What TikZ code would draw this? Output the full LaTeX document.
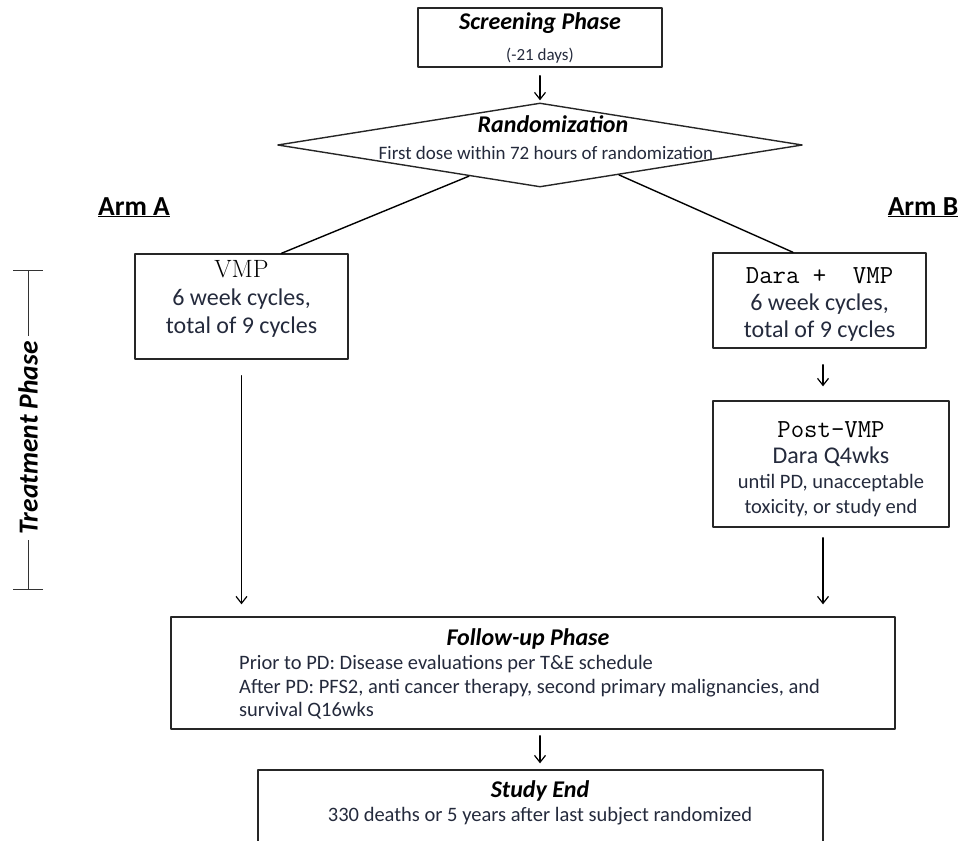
\documentclass[tikz,border=0pt]{standalone}
\usepackage{fontspec}
\newfontfamily\calfont{Carlito}
\usetikzlibrary{arrows.meta,positioning,shapes.geometric,calc}
\definecolor{bodyblue}{RGB}{36,42,60}
\newcommand{\titlefont}{\calfont\fontsize{24}{29}\selectfont\bfseries\itshape}
\newcommand{\smallfont}{\calfont\fontsize{17}{20}\selectfont}
\newcommand{\randfont}{\calfont\fontsize{19}{23}\selectfont}
\newcommand{\bodyfont}{\calfont\fontsize{20.5}{24}\selectfont}
\newcommand{\armfont}{\calfont\fontsize{24}{29}\selectfont}
\newcommand{\postfont}{\calfont\fontsize{20.5}{24}\selectfont}
\newcommand{\armlabelfont}{\calfont\fontsize{27.5}{32}\selectfont\bfseries}
\newcommand{\drugfont}{\ttfamily\fontsize{26}{30}\selectfont}
\newcommand{\vmpfont}{\rmfamily\fontsize{25}{30}\selectfont}
\begin{document}
\begin{tikzpicture}[x=1pt,y=-1pt,line join=round,line cap=round,>={Straight Barb[length=7pt,width=11pt]}]
	\tikzset{box/.style={draw=black!85,line width=1.4pt,inner sep=0pt},
		lbl/.style={inner sep=0pt,anchor=base,text=bodyblue},
		hd/.style={inner sep=0pt,anchor=base,text=black,font=\titlefont},
		arr/.style={->,line width=1.2pt},
		link/.style={line width=1.4pt}}
	\useasboundingbox (0,0) rectangle (963,840);
	\clip (0,0) rectangle (963,840);
	% boxes
	\node[box,minimum width=244pt,minimum height=59pt] (screen) at (540,37.5) {};
	\node[box,diamond,minimum width=525pt,minimum height=84pt] (rand) at (540,145) {};
	\node[box,minimum width=213pt,minimum height=105pt] (vmp) at (241.5,306.5) {};
	\node[box,minimum width=213pt,minimum height=95pt] (dara) at (819.5,300.5) {};
	\node[box,minimum width=236pt,minimum height=126pt] (post) at (831,464) {};
	\node[box,minimum width=724pt,minimum height=112pt] (follow) at (533,673) {};
	\node[box,minimum width=565pt,minimum height=90pt] (studyend) at (540.5,815) {};
	% texts
	\node[hd] (screenhd) at (540,30) {Screening Phase};
	\node[lbl,font=\smallfont] (screendays) at (540,61) {(-21 days)};
	\node[hd] (randhd) at (553,132) {Randomization};
	\node[lbl,font=\randfont] (randtxt) at (546,159) {First dose within 72 hours of randomization};
	\node[lbl,font=\armlabelfont,text=black] (armA) at (134,215) {\underline{Arm A}};
	\node[lbl,font=\armlabelfont,text=black] (armB) at (923,215) {\underline{Arm B}};
	\node[lbl,font=\vmpfont,text=black] (vmphd) at (241.5,277) {VMP};
	\node[lbl,font=\armfont] (vmpa) at (241.5,305) {6 week cycles,};
	\node[lbl,font=\armfont] (vmpb) at (241.5,333) {total of 9 cycles};
	\node[lbl,font=\drugfont,text=black] (darahd) at (819.5,283) {Dara~+~~VMP};
	\node[lbl,font=\armfont] (daraa) at (819.5,310) {6 week cycles,};
	\node[lbl,font=\armfont] (darab) at (819.5,337) {total of 9 cycles};
	\node[lbl,font=\drugfont,text=black] (posthd) at (831,437) {Post-VMP};
	\node[lbl,font=\armfont] (posta) at (831,463) {Dara Q4wks};
	\node[lbl,font=\postfont] (postb) at (831,488) {until PD, unacceptable};
	\node[lbl,font=\postfont] (postc) at (831,513) {toxicity, or study end};
	\node[hd] (followhd) at (528,645) {Follow-up Phase};
	\node[lbl,font=\bodyfont,anchor=base west] (followa) at (239,669) {Prior to PD: Disease evaluations per T\&E schedule};
	\node[lbl,font=\bodyfont,anchor=base west] (followb) at (239,693) {After PD: PFS2, anti cancer therapy, second primary malignancies, and};
	\node[lbl,font=\bodyfont,anchor=base west] (followc) at (239,716) {survival Q16wks};
	\node[hd] (studyhd) at (540,797) {Study End};
	\node[lbl,font=\bodyfont] (studytxt) at (540,821) {330 deaths or 5 years after last subject randomized};
	% treatment phase bracket
	\coordinate (trtop) at (28,270);
	\coordinate (trbot) at (28,590);
	\draw[{Bar[width=30pt]}-{Bar[width=30pt]},line width=1pt,black!80] (trtop) -- (trbot)
		node[pos=0.525,fill=white,rotate=90,inner xsep=5pt,inner ysep=2pt,font=\calfont\fontsize{27.5}{32}\selectfont\bfseries\itshape,text=black] (treat) {Treatment Phase};
	% connectors
	\coordinate (bx) at (823,0);
	\draw[link] ($(rand.west)!0.73!(rand.south)$) -- ([xshift=40pt]vmp.north);
	\draw[link] ($(rand.south)!0.3!(rand.east)$) -- ([xshift=-26.5pt]dara.north);
	\draw[arr] ([yshift=-8pt]screen.south) -- ([yshift=2pt]rand.north);
	\draw[arr] ([yshift=-16pt]vmp.south) -- ([yshift=12pt]vmp.south |- follow.north);
	\draw[arr] ([yshift=-16pt]dara.south -| bx) -- ([yshift=14pt]bx |- post.north);
	\draw[arr] ([yshift=-10pt]post.south -| bx) -- ([yshift=12pt]bx |- follow.north);
	\draw[arr] ([yshift=-6pt]follow.south -| rand) -- ([yshift=6pt]rand |- studyend.north);
\end{tikzpicture}
\end{document}
